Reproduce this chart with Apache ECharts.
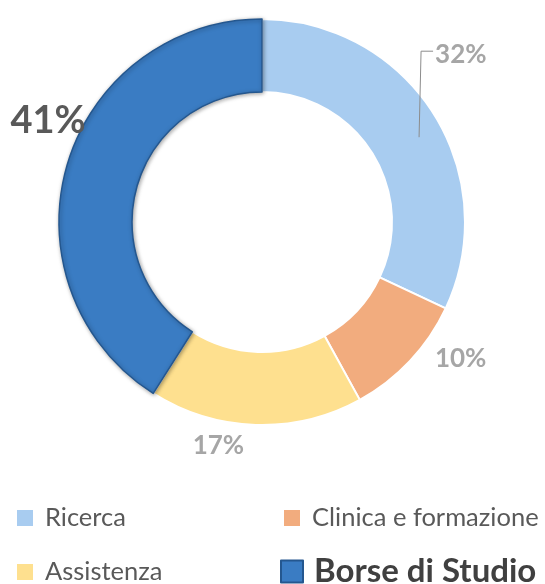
<!DOCTYPE html>
<html>
<head>
<meta charset="utf-8">
<script src="https://cdn.jsdelivr.net/npm/echarts@6/dist/echarts.min.js"></script>
<style>
  html, body { margin: 0; padding: 0; background: #fff; }
  #main { width: 545px; height: 584px; }
</style>
</head>
<body>
<div id="main"></div>
<script>
// dati
var categories = ['Ricerca', 'Clinica e formazione', 'Assistenza', 'Borse di Studio'];
var values = [32, 10, 17, 41];
var colors = ['#A8CCF0', '#F2AC7E', '#FEE08F', '#3A7CC3'];

var chartDom = document.getElementById('main');
var myChart = echarts.init(chartDom);
var option;

var pieData = categories.map(function (name, i) {
  var item = {
    name: name,
    value: values[i],
    itemStyle: { color: colors[i], borderColor: '#fff', borderWidth: 2 }
  };
  if (i === 3) {
    // fetta in evidenza
    item.itemStyle = {
      color: colors[i],
      borderColor: '#24578f',
      borderWidth: 1.5,
      shadowColor: 'rgba(0,0,0,0.35)',
      shadowBlur: 4,
      shadowOffsetX: 1,
      shadowOffsetY: 1
    };
  }
  return item;
});

// stessa serie, trasparente, solo per le etichette (sopra le fette)
var labelData = categories.map(function (name, i) {
  var item = { name: name, value: values[i] };
  if (i === 0) item.labelLine = { show: true };
  if (i === 3) item.label = { fontSize: 38, color: '#595959' };
  return item;
});

// spostamenti etichette
var labelShift = [
  { dx: -46, dy: -51 },
  { dx: -21, dy: -13 },
  { dx: 24, dy: 6 },
  { dx: 68, dy: -40 }
];

function legendItem(i, left, top, style) {
  return {
    data: [{ name: categories[i], icon: 'rect' }],
    left: left,
    top: top,
    padding: 0,
    itemWidth: style.size,
    itemHeight: style.size,
    itemGap: 0,
    selectedMode: false,
    textStyle: {
      fontFamily: 'Lato',
      fontSize: style.font,
      fontWeight: style.bold ? 'bold' : 'normal',
      color: style.color,
      padding: [0, 0, 0, style.pad]
    }
  };
}

option = {
  animation: false,
  legend: [
    legendItem(0, 15, 505, { size: 18, font: 25.5, color: '#595959', pad: 6 }),
    legendItem(1, 282, 505, { size: 18, font: 25.5, color: '#595959', pad: 6 }),
    legendItem(2, 15, 559, { size: 18, font: 25.5, color: '#595959', pad: 6 }),
    legendItem(3, 280, 555, { size: 22, font: 33, color: '#404040', bold: true, pad: 6 })
  ],
  series: [
    {
      type: 'pie',
      center: [262, 222],
      radius: [130, 203],
      startAngle: 90,
      clockwise: true,
      label: { show: false },
      labelLine: { show: false },
      data: pieData
    },
    {
      type: 'pie',
      z: 5,
      silent: true,
      legendHoverLink: false,
      center: [262, 222],
      radius: [130, 203],
      startAngle: 90,
      clockwise: true,
      avoidLabelOverlap: false,
      itemStyle: { color: 'rgba(0,0,0,0)', borderWidth: 0 },
      label: {
        show: true,
        position: 'outside',
        formatter: '{c}%',
        fontFamily: 'Lato',
        fontSize: 26,
        fontWeight: 'bold',
        color: '#A6A6A6'
      },
      labelLine: {
        show: false,
        lineStyle: { color: '#8c8c8c', width: 1 }
      },
      labelLayout: function (params) {
        var s = labelShift[params.dataIndex];
        var out = { dx: s.dx, dy: s.dy };
        if (params.dataIndex === 0) {
          // linea di richiamo verticale come nell'originale
          var r = params.labelRect;
          var lx = r.x + s.dx;
          var cy = r.y + s.dy + r.height / 2;
          out.labelLinePoints = [[lx - 16, cy + 83], [lx - 14, cy - 3], [lx - 2, cy - 3]];
        }
        return out;
      },
      data: labelData
    }
  ]
};

option && myChart.setOption(option);
</script>
</body>
</html>
